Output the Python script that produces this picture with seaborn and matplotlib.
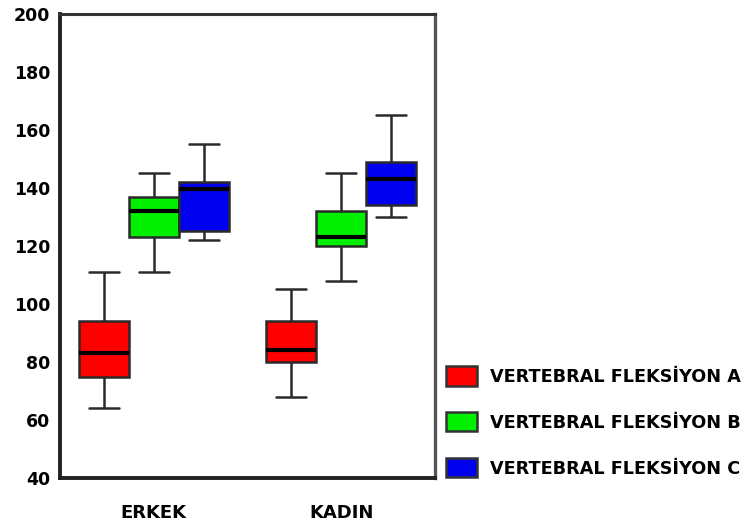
import numpy as np
import pandas as pd
import matplotlib
matplotlib.use("Agg")
import matplotlib.pyplot as plt
import seaborn as sns

# ---- data (five-number summaries: min, Q1, median, Q3, max)
groups = ["ERKEK", "KADIN"]
series = ["VERTEBRAL FLEKSİYON A", "VERTEBRAL FLEKSİYON B", "VERTEBRAL FLEKSİYON C"]
colors = ["#FF0000", "#00F000", "#0000F0"]

erkek_a = [64, 75, 83, 94, 111]
erkek_b = [111, 123, 132, 137, 145]
erkek_c = [122, 125, 139.5, 142, 155]
kadin_a = [68, 80, 84, 94, 105]
kadin_b = [108, 120, 123, 132, 145]
kadin_c = [130, 134, 143, 149, 165]

yticks = [40, 60, 80, 100, 120, 140, 160, 180, 200]

summaries = {
    ("ERKEK", series[0]): erkek_a,
    ("ERKEK", series[1]): erkek_b,
    ("ERKEK", series[2]): erkek_c,
    ("KADIN", series[0]): kadin_a,
    ("KADIN", series[1]): kadin_b,
    ("KADIN", series[2]): kadin_c,
}
rows = []
for (g, s), vals in summaries.items():
    for v in vals:
        rows.append({"group": g, "series": s, "value": v})
df = pd.DataFrame(rows)

sns.set_style("white")
plt.rcParams["font.family"] = ["DejaVu Sans"]
plt.rcParams["text.color"] = "black"

fig = plt.figure(figsize=(7.47, 5.27), dpi=100)
ax = fig.add_axes([60 / 747, 1 - 478 / 527, 375 / 747, 464 / 527])

sns.boxplot(
    data=df, x="group", y="value", hue="series", order=groups, hue_order=series,
    palette=colors, saturation=1, whis=np.inf, width=0.8, gap=0,
    linecolor="#2a2a2a", linewidth=1.8,
    medianprops=dict(color="black", linewidth=3),
    ax=ax,
)

# widen whisker caps slightly (caps are the short horizontal lines)
box_w = 0.8 / len(series)
for ln in ax.lines:
    xd, yd = np.asarray(ln.get_xdata(), float), np.asarray(ln.get_ydata(), float)
    if len(xd) == 2 and yd[0] == yd[1]:
        span = abs(xd[1] - xd[0])
        if 0 < span < 0.9 * box_w:
            c = xd.mean()
            ln.set_xdata([c - span * 0.6, c + span * 0.6])

ax.set_ylim(40, 200)
ax.set_xlim(-0.5, 1.5)
ax.set_yticks(yticks)
ax.set_yticklabels([str(t) for t in yticks], fontsize=12.5, fontweight="bold", color="black")
ax.set_xticks([0, 1])
ax.set_xticklabels(groups, fontsize=13, fontweight="bold", color="black")
ax.set_xlabel("")
ax.set_ylabel("")

ax.tick_params(axis="y", direction="out", length=5, width=2, color="#222222", pad=2)
ax.tick_params(axis="x", direction="out", length=4, width=2.5, color="#222222", pad=15)

for side in ["left", "bottom"]:
    ax.spines[side].set_linewidth(2.8)
    ax.spines[side].set_color("#222222")
ax.spines["top"].set_linewidth(2.2)
ax.spines["top"].set_color("#333333")
ax.spines["right"].set_linewidth(2.4)
ax.spines["right"].set_color("#555555")

handles, labels = ax.get_legend_handles_labels()
if ax.get_legend() is not None:
    ax.get_legend().remove()
leg = fig.legend(
    handles, labels, loc="upper left", bbox_to_anchor=(441 / 747, 1 - 361 / 527),
    frameon=False, prop=dict(size=12.7, weight="bold"),
    handlelength=1.75, handleheight=1.3, handletextpad=0.7, labelspacing=1.5,
    borderaxespad=0, borderpad=0.3,
)
for h in leg.legend_handles:
    h.set_edgecolor("#333333")
    h.set_linewidth(1.8)
for t in leg.get_texts():
    t.set_color("black")

fig.savefig("out.png", dpi=100)
